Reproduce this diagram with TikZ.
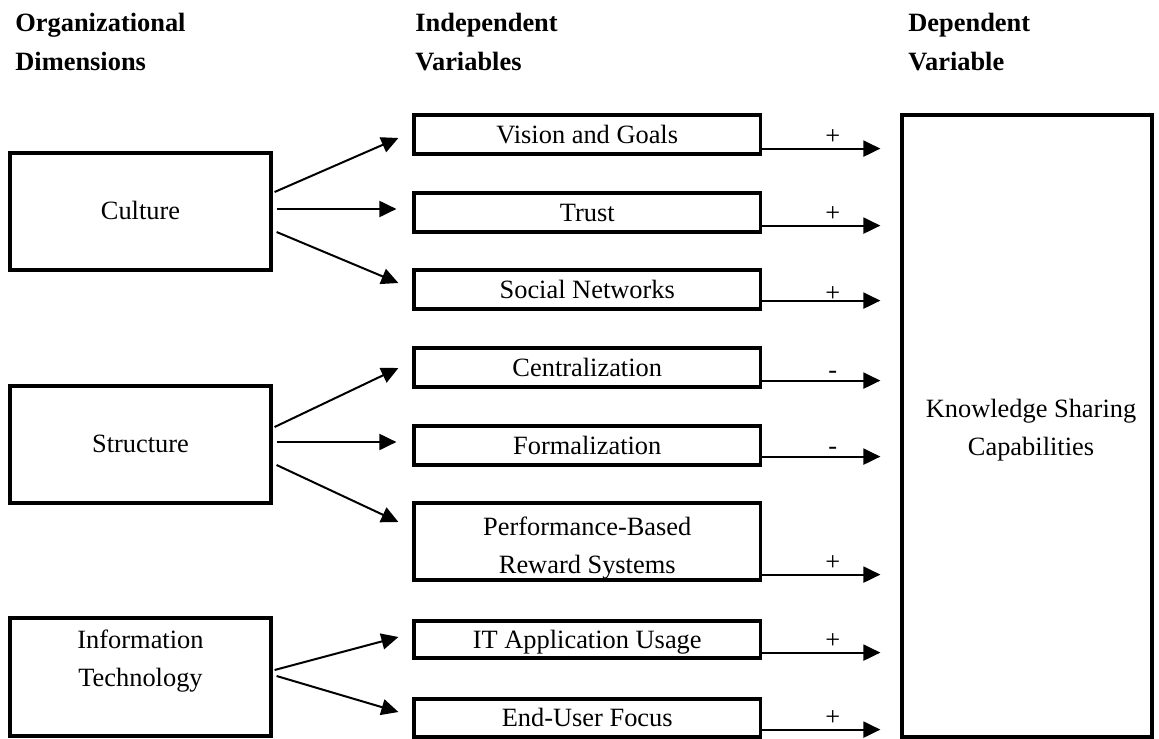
\documentclass[tikz,border=0pt]{standalone}
\usepackage{fontspec}
\setmainfont{Liberation Serif}
\usetikzlibrary{arrows.meta,calc}
\begin{document}
\begin{tikzpicture}[x=0.5pt,y=-0.5pt,
  every node/.style={font=\fontsize{13.2}{18.75}\selectfont},
  head/.style={font=\fontsize{13.2}{19}\selectfont\bfseries, anchor=base west, inner sep=0pt},
  dimbox/.style={draw, line width=1.6pt, minimum width=130.5pt, minimum height=58.5pt, inner sep=0pt, text height=0.75em, text depth=0pt},
  varbox/.style={draw, line width=1.6pt, minimum width=173.25pt, minimum height=19.5pt, inner sep=0pt, text height=0.85em, text depth=0pt},
  lbl/.style={align=center, inner sep=0pt},
  arr/.style={line width=1pt, -{Triangle[length=8.5pt,width=8pt]}},
  sign/.style={anchor=base, inner sep=0pt, yshift=2pt},
  minus/.style={anchor=base, inner sep=0pt, yshift=1pt}
]
\useasboundingbox (0,0) rectangle (1159,738);

% headings
\node[head] (h1a) at (15,32) {Organizational};
\node[head] (h1b) at (15,70) {Dimensions};
\node[head] (h2a) at (415,32) {Independent};
\node[head] (h2b) at (415,70) {Variables};
\node[head] (h3a) at (908,32) {Dependent};
\node[head] (h3b) at (908,70) {Variable};

% organizational dimensions
\node[dimbox] (cu) at (140.5,211.5) {Culture};
\node[dimbox] (st) at (140.5,444.5) {Structure};
\node[dimbox, minimum height=59pt] (it) at (140.5,677) {};
\node[lbl] (itt) at (140.5,661) {Information\\Technology};

% independent variables
\node[varbox] (vg) at (587.25,134.5) {Vision and Goals};
\node[varbox] (tr) at (587.25,212.5) {Trust};
\node[varbox] (sn) at (587.25,289.5) {Social Networks};
\node[varbox] (ce) at (587.25,367.5) {Centralization};
\node[varbox] (fo) at (587.25,445.5) {Formalization};
\node[varbox, minimum height=38.5pt] (pr) at (587.25,541.5) {};
\node[lbl] (prt) at (587.25,548) {Performance-Based\\Reward Systems};
\node[varbox, minimum height=18.5pt] (ia) at (587.25,639.5) {IT Application Usage};
\node[varbox, minimum height=19pt] (eu) at (587.25,718) {End-User Focus};

% dependent variable
\node[draw, line width=1.6pt, minimum width=125pt, minimum height=311pt, inner sep=0pt] (ks) at (1027,426) {};
\node[lbl] (kst) at (1031,430) {Knowledge Sharing\\Capabilities};

% dimension -> variable arrows
\draw[arr] ($(cu.east)+(2,-19.5)$) -- ($(vg.west)+(-14,3.5)$);
\draw[arr] ($(cu.east)+(4,-2.5)$) -- ($(tr.west)+(-16,-3.5)$);
\draw[arr] ($(cu.east)+(4,20.5)$) -- ($(sn.west)+(-14,-6.5)$);
\draw[arr] ($(st.east)+(2,-17.5)$) -- ($(ce.west)+(-14,0.5)$);
\draw[arr] ($(st.east)+(4,-2.5)$) -- ($(fo.west)+(-16,-3.5)$);
\draw[arr] ($(st.east)+(4,20.5)$) -- ($(pr.west)+(-14,-19.5)$);
\draw[arr] ($(it.east)+(2,-7)$) -- ($(ia.west)+(-14,-2.5)$);
\draw[arr] ($(it.east)+(4,-1)$) -- ($(eu.west)+(-14,-6)$);

% variable -> dependent arrows
\draw[arr] ($(vg.south east)+(0,-7)$) -- ($(vg.south east -| ks.west)+(-20,-7)$) node[sign,pos=0.597] (s1) {+};
\draw[arr] ($(tr.south east)+(0,-8)$) -- ($(tr.south east -| ks.west)+(-20,-8)$) node[sign,pos=0.597] (s2) {+};
\draw[arr] ($(sn.south east)+(0,-10)$) -- ($(sn.south east -| ks.west)+(-20,-10)$) node[sign,pos=0.597,yshift=-2.25pt] (s3) {+};
\draw[arr] ($(ce.south east)+(0,-8)$) -- ($(ce.south east -| ks.west)+(-20,-8)$) node[minus,pos=0.597] (s4) {-};
\draw[arr] ($(fo.south east)+(0,-10)$) -- ($(fo.south east -| ks.west)+(-20,-10)$) node[minus,pos=0.597] (s5) {-};
\draw[arr] ($(pr.south east)+(0,-7)$) -- ($(pr.south east -| ks.west)+(-20,-7)$) node[sign,pos=0.597] (s6) {+};
\draw[arr] ($(ia.south east)+(0,-7)$) -- ($(ia.south east -| ks.west)+(-20,-7)$) node[sign,pos=0.597] (s7) {+};
\draw[arr] ($(eu.south east)+(0,-9)$) -- ($(eu.south east -| ks.west)+(-20,-9)$) node[sign,pos=0.597] (s8) {+};
\end{tikzpicture}
\end{document}
